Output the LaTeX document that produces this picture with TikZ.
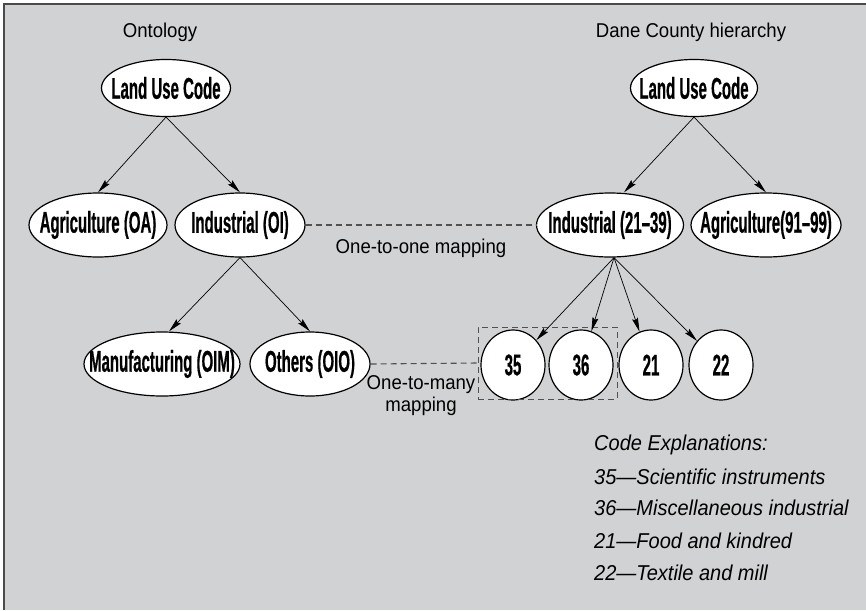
\documentclass[tikz,border=0pt]{standalone}
\usepackage{fontspec}
\setmainfont{Liberation Sans}
\newfontfamily\nodefont{Liberation Sans}[FakeStretch=0.5,FakeBold=0.5]
\newfontfamily\labfont{Liberation Sans}[FakeStretch=0.93]
\usetikzlibrary{shapes.geometric,arrows.meta}
\definecolor{bg}{HTML}{D1D2D4}
\definecolor{framec}{HTML}{4A4A4A}
\definecolor{dashc}{HTML}{505050}
\newcommand\zt[1]{\makebox[0pt]{#1}}
\begin{document}
\begin{tikzpicture}[x=1pt,y=-1pt,
  ell/.style={ellipse, draw=black, line width=1.2pt, fill=white, inner sep=0pt,
    font=\nodefont\bfseries\fontsize{30}{32}\selectfont},
  arr/.style={-{Stealth[length=14pt,width=6pt,inset=2pt]}, line width=0.7pt},
  mapline/.style={draw=dashc, dash pattern=on 6pt off 4pt, line width=1.1pt},
  lab/.style={font=\labfont\fontsize{20}{22}\selectfont, inner sep=0pt},
  expl/.style={font=\labfont\itshape\fontsize{21.5}{23}\selectfont, inner sep=0pt, anchor=west}]
\useasboundingbox (0,0) rectangle (866,610);
\fill[white] (0,0) rectangle (866,610);
\fill[bg] (3,3) rectangle (866,610);
\draw[framec, line width=1.6pt] (3.8,610) -- (3.8,3.8) -- (866,3.8);

% titles
\node[lab] (t1) at (160,32) {Ontology};
\node[lab] (t2) at (691,32) {Dane County hierarchy};

% level 1
\node[ell, minimum width=129pt, minimum height=57pt] (luc1) at (166,88) {\zt{Land Use Code}};
\node[ell, minimum width=127pt, minimum height=57pt] (luc2) at (694,88) {\zt{Land Use Code}};

% level 2
\node[ell, minimum width=138pt, minimum height=64pt] (agri) at (98,225) {\zt{Agriculture (OA)}};
\node[ell, minimum width=130pt, minimum height=64pt] (oi) at (240,225) {\zt{Industrial (OI)}};
\node[ell, minimum width=147pt, minimum height=64pt] (ind) at (610,225) {\zt{Industrial (21–39)}};
\node[ell, minimum width=150pt, minimum height=64pt] (agr2) at (766,225) {\zt{Agriculture(91–99)}};

% level 3
\node[ell, minimum width=156pt, minimum height=64pt] (man) at (162,364) {\zt{Manufacturing (OIM)}};
\node[ell, minimum width=120pt, minimum height=64pt] (oth) at (310,364) {\zt{Others (OIO)}};
\node[ell, minimum width=64pt, minimum height=70pt] (c35) at (513,365) {\zt{35}};
\node[ell, minimum width=64pt, minimum height=70pt] (c36) at (581,365) {\zt{36}};
\node[ell, minimum width=64pt, minimum height=70pt] (c21) at (651,365) {\zt{21}};
\node[ell, minimum width=64pt, minimum height=70pt] (c22) at (721,365) {\zt{22}};

% dashed group box
\node[mapline, draw, line width=1pt, minimum width=139pt, minimum height=72pt, inner sep=0pt] (box) at (547.5,363) {};

% mappings
\draw[mapline] (oi.east) -- (ind.west);
\draw[mapline] (oth.east) -- (box.west);
\node[lab] (m1) at (421,248) {One-to-one mapping};
\node[lab, align=center] (m2) at (421,396) {One-to-many\\mapping};

% arrows
\draw[arr] (luc1.south) -- (agri.north);
\draw[arr] (luc1.south) -- (oi.north);
\draw[arr] (oi.south) -- ([xshift=7pt]man.north);
\draw[arr] (oi.south) -- (oth.north);
\draw[arr] (luc2.south) -- ([xshift=14pt]ind.north);
\draw[arr] (luc2.south) -- (agr2.north);
\draw[arr] ([xshift=4pt]ind.south) -- (c35);
\draw[arr] ([xshift=4pt]ind.south) -- (c36);
\draw[arr] ([xshift=4pt]ind.south) -- (c21);
\draw[arr] ([xshift=4pt]ind.south) -- (c22);

% explanations
\node[expl] (e0) at (594,445) {Code Explanations:};
\node[expl] (e1) at (594,477) {35—Scientific instruments};
\node[expl] (e2) at (594,508) {36—Miscellaneous industrial};
\node[expl] (e3) at (594,541) {21—Food and kindred};
\node[expl] (e4) at (594,573) {22—Textile and mill};
\end{tikzpicture}
\end{document}
